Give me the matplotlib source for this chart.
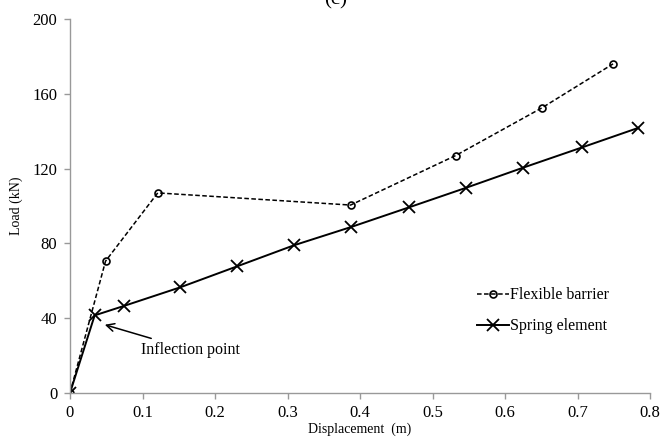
import matplotlib.pyplot as plt

plt.rcParams['font.family'] = ['Liberation Serif', 'DejaVu Serif']

# Load-displacement curves
flex_disp = [0.0, 0.049, 0.121, 0.387, 0.532, 0.651, 0.749]
flex_load = [0.0, 70.5, 107.0, 100.5, 127.0, 152.5, 176.0]

spring_disp = [0.0, 0.034, 0.074, 0.152, 0.231, 0.309, 0.388, 0.467, 0.546, 0.625, 0.706, 0.784]
spring_load = [0.0, 41.5, 46.5, 56.5, 67.8, 79.0, 88.8, 99.2, 109.7, 120.5, 131.3, 141.8]

x_ticks = [0, 0.1, 0.2, 0.3, 0.4, 0.5, 0.6, 0.7, 0.8]
y_ticks = [0, 40, 80, 120, 160, 200]

fig = plt.figure(figsize=(6.61, 4.44), dpi=100)
ax = fig.add_axes([0.1059, 0.1149, 0.8775, 0.8423])

ax.plot(flex_disp, flex_load, color='black', linestyle='--', linewidth=1.1,
        marker='o', markersize=5, markerfacecolor='none', markeredgewidth=1.2,
        dashes=(3, 1.6), label='Flexible barrier')
ax.plot(spring_disp, spring_load, color='black', linestyle='-', linewidth=1.4,
        marker='x', markersize=8, markeredgewidth=1.3, label='Spring element')

ax.annotate('Inflection point', xy=(0.048, 36.5), xytext=(0.098, 23),
            fontsize=11.5, va='center', ha='left',
            arrowprops=dict(arrowstyle='->', color='black', lw=1.1,
                            shrinkA=2, shrinkB=0, mutation_scale=14))

ax.set_xlim(0, 0.8)
ax.set_ylim(0, 200)
ax.set_xticks(x_ticks)
ax.set_xticklabels(['0', '0.1', '0.2', '0.3', '0.4', '0.5', '0.6', '0.7', '0.8'])
ax.set_yticks(y_ticks)

for side in ['top', 'right']:
    ax.spines[side].set_visible(False)
for side in ['left', 'bottom']:
    ax.spines[side].set_color('#999999')
    ax.spines[side].set_linewidth(1.0)
ax.tick_params(direction='out', length=4, width=1, color='#999999',
               labelsize=12, pad=5)

ax.set_xlabel('Displacement  (m)', fontsize=10, labelpad=1)
ax.set_ylabel('Load (kN)', fontsize=10, labelpad=7)

ax.legend(loc='upper left', bbox_to_anchor=(0.69, 0.30), frameon=False,
          fontsize=11.5, handlelength=2.0, handletextpad=0.1, labelspacing=0.95,
          borderaxespad=0)

fig.text(0.507, 0.99, '(c)', fontsize=15, ha='center', va='baseline')

fig.savefig('out.png', dpi=100)
